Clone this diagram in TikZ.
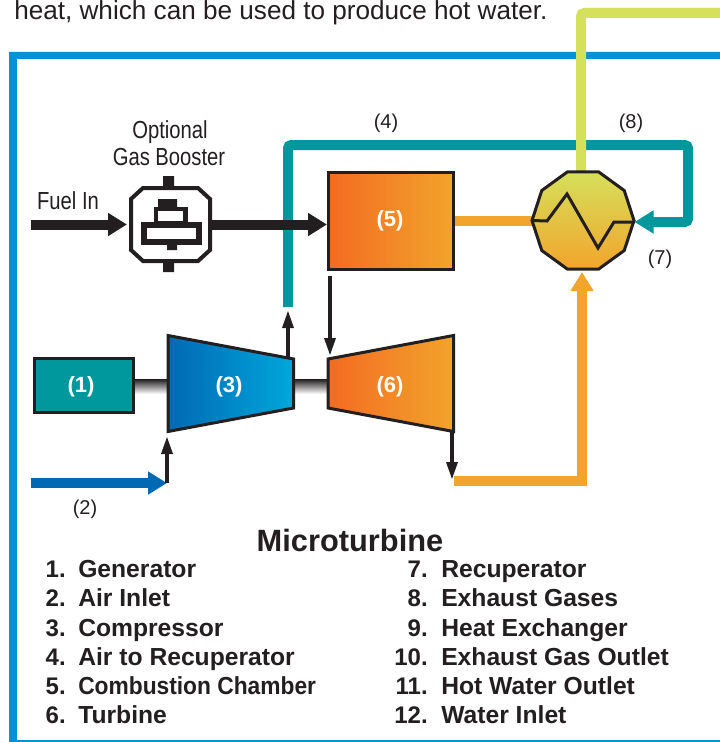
\documentclass[tikz,border=0pt]{standalone}
\usepackage{fontspec}
\setmainfont{Liberation Sans}
\newfontfamily\narrowfont[FakeStretch=0.82]{Liberation Sans}
\newfontfamily\tightfont[FakeStretch=0.923]{Liberation Sans}
\usetikzlibrary{arrows.meta,shapes.geometric}
\definecolor{ink}{HTML}{231F20}
\definecolor{framecol}{HTML}{0093D0}
\definecolor{pipeteal}{HTML}{00979D}
\definecolor{pipeyellow}{HTML}{D5E05B}
\definecolor{pipeorange}{HTML}{F2A42C}
\definecolor{hotstart}{HTML}{F36B21}
\definecolor{airblue}{HTML}{0069B4}
\definecolor{aircyan}{HTML}{00A7DB}
\tikzset{
    pipe/.style={line width=7.5pt},
    bigtip/.style={-{Triangle[length=14.25pt,width=16.5pt]}},
    thin arrow/.style={draw=ink,line width=3pt,-{Triangle[length=13.5pt,width=8pt]}},
    machine/.style={draw=ink,line width=2.25pt,line join=miter},
    idlabel/.style={text=white,font=\bfseries\fontsize{16.5}{18}\selectfont},
    tag/.style={text=ink,anchor=base,font=\narrowfont\fontsize{18.5}{20}\selectfont,inner sep=0pt},
    numtag/.style={text=ink,font=\fontsize{15}{18}\selectfont,inner sep=0pt},
    item/.style={text=ink,anchor=base west,inner sep=0pt,font=\bfseries\fontsize{18.5}{20}\selectfont},
    num/.style={text=ink,anchor=base east,inner sep=0pt,font=\bfseries\fontsize{18}{20}\selectfont},
}
\begin{document}
\begin{tikzpicture}[x=0.75pt,y=-0.75pt]
    \clip (0,0) rectangle (720,742);
    % frame
    \fill[framecol,even odd rule] (9,52) rectangle (730,750) (17,59) rectangle (730,740);
    \node[anchor=base west,inner sep=0pt,text=ink,font=\fontsize{19.6}{22}\selectfont] (intro) at (14,20) {heat, which can be used to produce hot water.};

    % main parts
    \node[machine,fill=pipeteal,minimum width=74.25pt,minimum height=40.5pt,inner sep=0pt] (generator) at (84,385.5) {};
    \node[machine,left color=hotstart,right color=pipeorange,minimum width=93.75pt,minimum height=72.75pt,inner sep=0pt] (chamber) at (391,220.5) {};

    % shafts between the machines
    \shade[top color=ink,bottom color=white] (135,379) rectangle (167,394);
    \shade[top color=ink,bottom color=white] (294,379) rectangle (327,394);
    \draw[machine,left color=airblue,right color=aircyan] (168,335.5) coordinate (cmptop) -- (293.5,359) coordinate (cmpout) -- (293.5,408) -- (168,431.5) coordinate (cmpin) -- cycle;
    \draw[machine,left color=hotstart,right color=pipeorange] (328,359) coordinate (trbin) -- (453.5,335.5) -- (453.5,431.5) coordinate (trbout) -- (328,408) -- cycle;

    % coordinates for the free ends
    \coordinate (fuelin) at (31,224.5);
    \coordinate (boostin) at (127,224.5);
    \coordinate (boostout) at (212,224.5);
    \coordinate (airin) at (31,483);
    \coordinate (inlet) at (167,483);
    \coordinate (tealend) at (288,307);
    \coordinate (exhaust) at (454,481);
    \coordinate (yellowend) at (730,13);
    \coordinate (recupwest) at (532,220.5);
    \coordinate (recupeast) at (634.5,222);
    \coordinate (recuptop) at (581,172);
    \coordinate (recupbot) at (582,272);

    % pipes
    \draw[pipe,pipeteal,rounded corners=2.5pt,bigtip] (tealend) -- (288,145) -- (688,145) -- (688,222) -- (recupeast);
    \draw[pipe,pipeorange] (chamber.east) -- (recupwest);
    \draw[pipe,pipeyellow,rounded corners=2.5pt] (recuptop) -- (581,13) -- (yellowend);
    \draw[pipe,pipeorange,bigtip] (exhaust) -- (582,481) -- (recupbot);
    \draw[pipe,airblue,bigtip] (airin) -- (inlet);
    \draw[pipe,ink,bigtip] (fuelin) -- (boostin);
    \draw[pipe,ink,bigtip] (boostout) -- (boostout -| chamber.west);

    % gas booster
    \draw[ink,line width=3pt,fill=white] (143,188) -- (198,188) -- (210,199) -- (210,250) -- (198,261) -- (143,261) -- (131,250) -- (131,199) -- cycle;
    \fill[ink] (163,176) rectangle (174,187) (163,262) rectangle (174,272);
    \fill[ink] (158,199) rectangle (177,208) (167,243) rectangle (177,250);
    \draw[ink,line width=3.5pt,fill=white] (156,209) rectangle (185.5,223);
    \draw[ink,line width=4.5pt,fill=white] (143.5,225) rectangle (199,242);

    % recuperator
    \node[machine,regular polygon,regular polygon sides=10,top color=pipeyellow,bottom color=pipeorange,minimum size=76.5pt,inner sep=0pt,outer sep=0pt] (recuperator) at (583,220.5) {};
    \draw[ink,line width=2.25pt] (recupwest) -- (547,221) -- (567,194) -- (598,248) -- (614,222) -- (recupeast);

    % thin flows
    \draw[thin arrow] (inlet) -- (167,436);
    \draw[thin arrow] (288,358) -- (288,310);
    \draw[thin arrow] (330,276) -- (330,356);
    \draw[thin arrow] (452,431) -- (452,480);

    % labels
    \node[idlabel] (lab1) at (81,387) {(1)};
    \node[idlabel] (lab3) at (229,387) {(3)};
    \node[idlabel] (lab5) at (390,221) {(5)};
    \node[idlabel] (lab6) at (390,387) {(6)};
    \node[tag] (optional) at (170,138) {Optional};
    \node[tag] (gasboost) at (169,165) {Gas Booster};
    \node[tag] (fuel) at (68,209) {Fuel In};
    \node[numtag] (lab2) at (85,509) {(2)};
    \node[numtag] (lab4) at (386,123) {(4)};
    \node[numtag] (lab7) at (660,259) {(7)};
    \node[numtag] (lab8) at (631,123) {(8)};

    % legend
    \node[text=ink,inner sep=0pt,font=\bfseries\fontsize{23.1}{26}\selectfont] (title) at (350,540) {Microturbine};
    \node[num] (n1) at (66,577) {1.};    \node[item] (t1) at (78,577) {Generator};
    \node[num] (n2) at (66,606) {2.};    \node[item] (t2) at (78,606) {Air Inlet};
    \node[num] (n3) at (66,636) {3.};    \node[item] (t3) at (78,636) {Compressor};
    \node[num] (n4) at (66,665) {4.};    \node[item] (t4) at (78,665) {Air to Recuperator};
    \node[num] (n5) at (66,694) {5.};    \node[item] (t5) at (78,694) {\tightfont\bfseries Combustion Chamber};
    \node[num] (n6) at (66,723) {6.};    \node[item] (t6) at (78,723) {Turbine};
    \node[num] (n7) at (428,577) {7.};   \node[item] (t7) at (441,577) {Recuperator};
    \node[num] (n8) at (428,606) {8.};   \node[item] (t8) at (441,606) {Exhaust Gases};
    \node[num] (n9) at (428,636) {9.};   \node[item] (t9) at (441,636) {Heat Exchanger};
    \node[num] (n10) at (428,665) {10.}; \node[item] (t10) at (441,665) {Exhaust Gas Outlet};
    \node[num] (n11) at (428,694) {11.}; \node[item] (t11) at (441,694) {Hot Water Outlet};
    \node[num] (n12) at (428,723) {12.}; \node[item] (t12) at (441,723) {Water Inlet};
\end{tikzpicture}
\end{document}
